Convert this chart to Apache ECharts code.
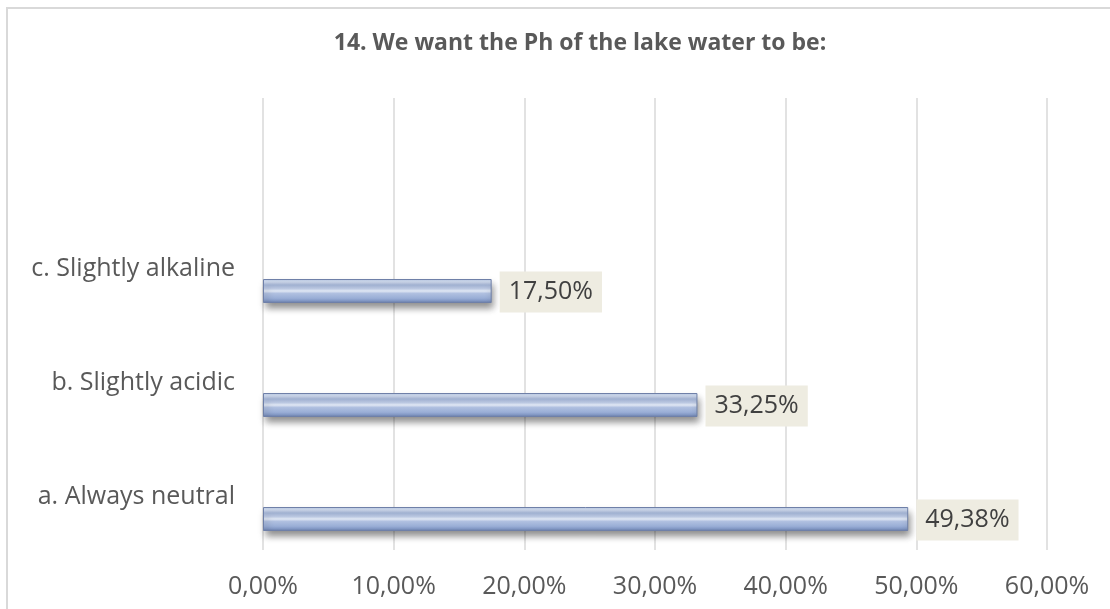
<!DOCTYPE html>
<html>
<head>
<meta charset="utf-8">
<script src="https://cdn.jsdelivr.net/npm/echarts@6/dist/echarts.min.js"></script>
<style>
  html, body { margin: 0; padding: 0; background: #fff; }
  #chart { width: 1110px; height: 609px; }
</style>
</head>
<body>
<div id="chart"></div>
<script>
const title = '14. We want the Ph of the lake water to be:';
const categories = ['a. Always neutral', 'b. Slightly acidic', 'c. Slightly alkaline'];
const values = [49.38, 33.25, 17.50];
const xTicks = [0, 10, 20, 30, 40, 50, 60];

const font = '"Open Sans", "Liberation Sans", sans-serif';
const fmt = v => v.toFixed(2).replace('.', ',') + '%';

const chart = echarts.init(document.getElementById('chart'));

const option = {
  animation: false,
  title: {
    text: title,
    left: 575,
    textAlign: 'center',
    top: 27,
    textStyle: { fontFamily: font, fontSize: 23, fontWeight: 'bold', color: '#595959' }
  },
  graphic: [{
    type: 'rect',
    shape: { x: 7, y: 8, width: 1200, height: 700 },
    style: { fill: 'none', stroke: '#d9d9d9', lineWidth: 2 },
    silent: true
  }],
  grid: [
    // value axis + gridlines
    { left: 263, right: 63, top: 98, bottom: 59 },
    // bars
    { left: 263, right: 63, top: 234, bottom: 33 }
  ],
  xAxis: [{
    gridIndex: 0,
    type: 'value',
    min: xTicks[0],
    max: xTicks[xTicks.length - 1],
    interval: 10,
    axisLine: { show: false },
    axisTick: { show: false },
    axisLabel: { fontFamily: font, fontSize: 25, color: '#595959', margin: 24, formatter: fmt },
    splitLine: { show: true, lineStyle: { color: '#d9d9d9', width: 1.5 } }
  }, {
    gridIndex: 1,
    type: 'value',
    min: xTicks[0],
    max: xTicks[xTicks.length - 1],
    show: false
  }],
  yAxis: [{
    gridIndex: 0,
    type: 'category',
    data: [''],
    show: false
  }, {
    gridIndex: 1,
    type: 'category',
    data: categories,
    axisLine: { show: false },
    axisTick: { show: false },
    axisLabel: {
      fontFamily: font, fontSize: 25, color: '#595959', margin: 28,
      verticalAlign: 'bottom',
      lineHeight: 44
    }
  }],
  series: [{
    type: 'bar',
    xAxisIndex: 1,
    yAxisIndex: 1,
    data: values,
    barWidth: 24,
    itemStyle: {
      color: new echarts.graphic.LinearGradient(0, 0, 0, 1, [
        { offset: 0, color: '#bccbe8' },
        { offset: 0.12, color: '#d0dbef' },
        { offset: 0.25, color: '#a9badc' },
        { offset: 0.4, color: '#c0cde8' },
        { offset: 0.5, color: '#e3eaf6' },
        { offset: 0.6, color: '#b0c0e0' },
        { offset: 0.8, color: '#9aaed6' },
        { offset: 0.92, color: '#8197c4' },
        { offset: 1, color: '#5f7099' }
      ]),
      borderColor: '#6f80a8',
      borderWidth: 1,
      shadowColor: 'rgba(0,0,0,0.45)',
      shadowBlur: 7,
      shadowOffsetX: 2,
      shadowOffsetY: 5
    },
    label: {
      show: true,
      position: 'right',
      distance: 8,
      offset: [0, 1],
      formatter: p => fmt(p.value),
      fontFamily: font,
      fontSize: 25,
      color: '#404040',
      backgroundColor: '#eeece1',
      padding: [8, 9, 8, 9]
    }
  }]
};

chart.setOption(option);
</script>
</body>
</html>
